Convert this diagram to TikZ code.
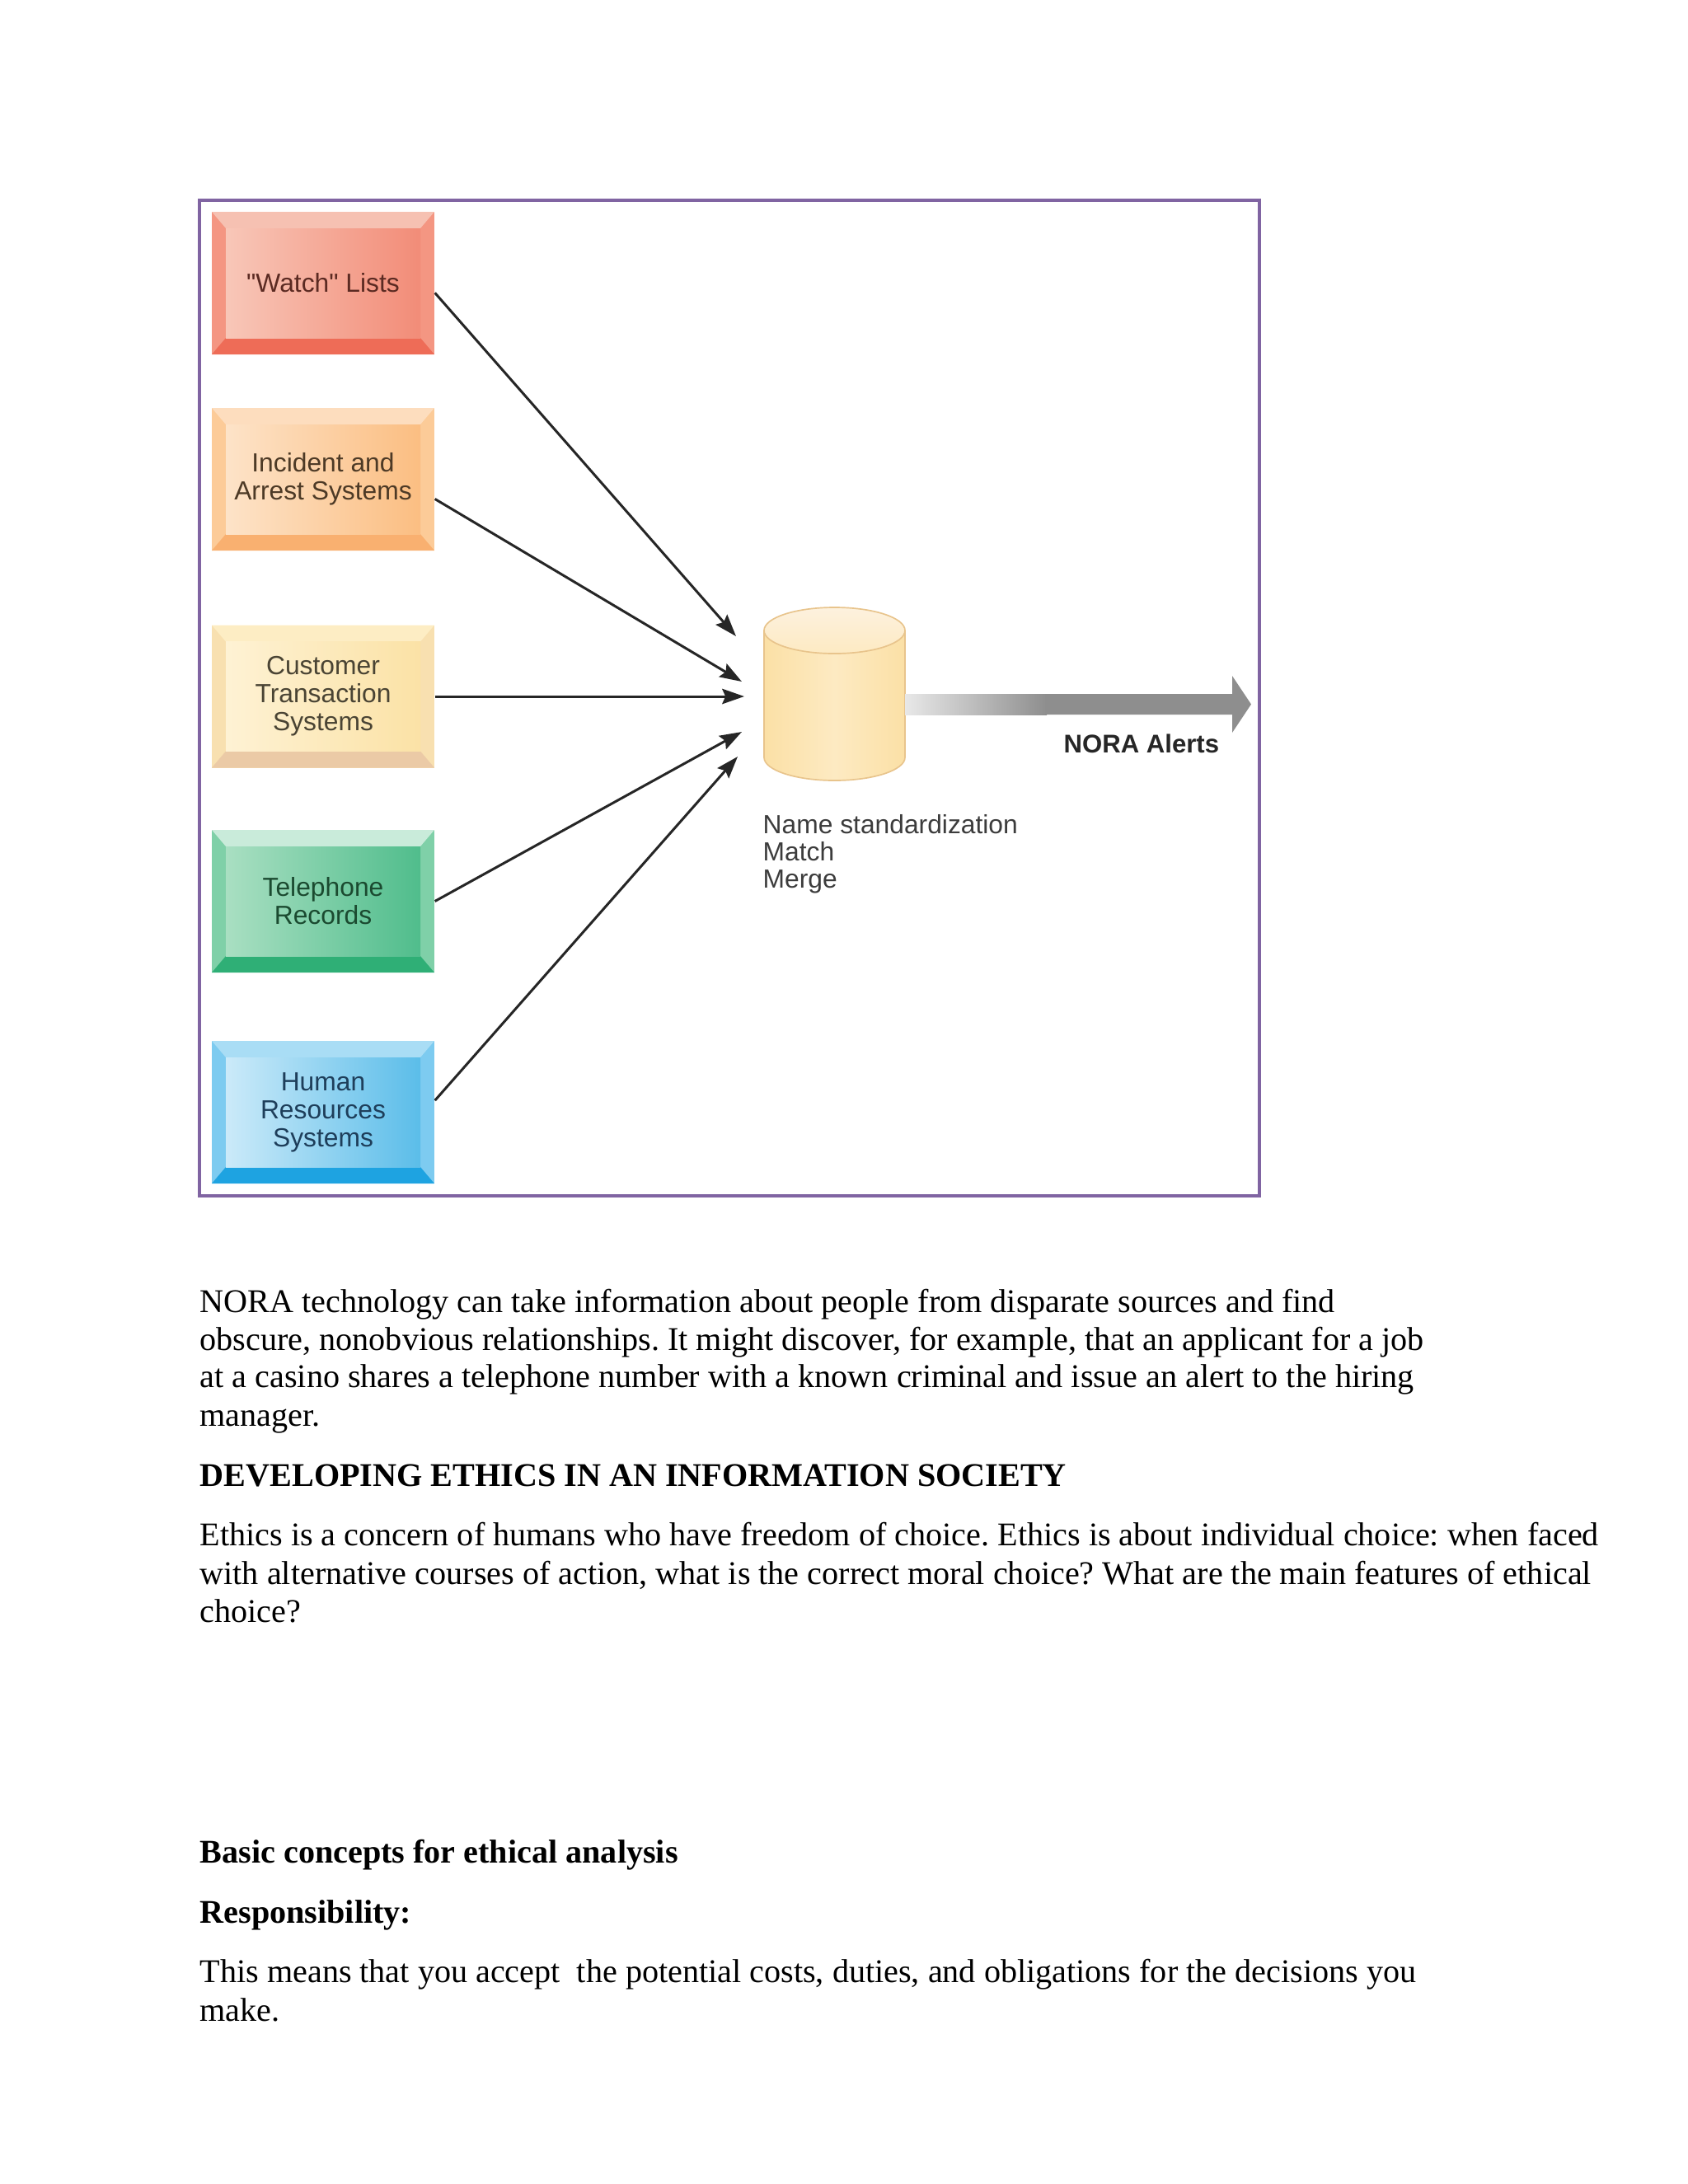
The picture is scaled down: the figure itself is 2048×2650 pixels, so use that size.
\documentclass[tikz,border=0pt]{standalone}
\usepackage{fontspec}
\setmainfont{Liberation Serif}
\newfontfamily\diagfont{Liberation Sans}
\usetikzlibrary{arrows.meta}
\frenchspacing
\definecolor{framepurple}{HTML}{8064A2}
% box colours: top, bottom, side, inner left, inner right, text
\definecolor{watchtop}{HTML}{F6C1B2}
\definecolor{watchbot}{HTML}{EE6C57}
\definecolor{watchside}{HTML}{F49682}
\definecolor{watchleft}{HTML}{F8C7B8}
\definecolor{watchright}{HTML}{F28C78}
\definecolor{watchtext}{HTML}{5B2A22}
\definecolor{incitop}{HTML}{FDDDBE}
\definecolor{incibot}{HTML}{F9B070}
\definecolor{inciside}{HTML}{FCCB98}
\definecolor{incileft}{HTML}{FDE3C8}
\definecolor{inciright}{HTML}{FBBE82}
\definecolor{incitext}{HTML}{4D3A26}
\definecolor{custtop}{HTML}{FDEDC4}
\definecolor{custbot}{HTML}{EBCAA6}
\definecolor{custside}{HTML}{F8E0B0}
\definecolor{custleft}{HTML}{FEF2D4}
\definecolor{custright}{HTML}{FBE2A6}
\definecolor{custtext}{HTML}{4A4434}
\definecolor{phonetop}{HTML}{C9EBDA}
\definecolor{phonebot}{HTML}{2FAF76}
\definecolor{phoneside}{HTML}{7FD0A8}
\definecolor{phoneleft}{HTML}{A9DFC2}
\definecolor{phoneright}{HTML}{50BD8C}
\definecolor{phonetext}{HTML}{1B4A30}
\definecolor{humantop}{HTML}{A9DDF5}
\definecolor{humanbot}{HTML}{1EA3E1}
\definecolor{humanside}{HTML}{7DCBF0}
\definecolor{humanleft}{HTML}{CBEAF9}
\definecolor{humanright}{HTML}{5BBDE9}
\definecolor{humantext}{HTML}{1E3E5A}
\definecolor{dbbody}{HTML}{FBE0A6}
\definecolor{dbmid}{HTML}{FDEAC2}
\definecolor{dbtop}{HTML}{FDF1DE}
\definecolor{dbedge}{HTML}{E8C48C}
\definecolor{alertlight}{HTML}{E8E8E8}
\definecolor{alertgray}{HTML}{8E8E8E}
\definecolor{notegray}{HTML}{3C3C3C}
\tikzset{
    boxtext/.style={inner sep=0pt, minimum width=80.7pt, minimum height=51.7pt,
            align=center, font=\diagfont\fontsize{9.5}{10.2}\selectfont},
    feed/.style={line width=0.9pt, draw=black!85,
            -{Stealth[length=8pt,width=5.5pt,inset=1.2pt]}},
    bodytext/.style={anchor=base west, inner sep=0pt, font=\fontsize{12}{13.75}\selectfont},
    notetext/.style={anchor=base west, inner sep=0pt, text=notegray,
            font=\diagfont\fontsize{9.5}{10.2}\selectfont},
}
% bevelled source box: name, y, colour prefix, text
\newcommand{\srcbox}[4]{%
    \fill[#3side] (257,#2-86.5) rectangle (527,#2+86.5);
    \fill[#3top] (257,#2-86.5) -- (527,#2-86.5) -- (510,#2-66.5) -- (274,#2-66.5) -- cycle;
    \fill[#3bot] (257,#2+86.5) -- (527,#2+86.5) -- (510,#2+66.5) -- (274,#2+66.5) -- cycle;
    \shade[left color=#3left, right color=#3right] (274,#2-66.5) rectangle (510,#2+66.5);
    \node[boxtext, text=#3text] (#1) at (392,#2) {#4};
}
\begin{document}
\begin{tikzpicture}[x=0.298828pt, y=-0.298828pt]
        \useasboundingbox (0,0) rectangle (2048,2650);
        %draw frame
        \draw[framepurple, line width=1.2pt] (242,243) rectangle (1528,1451);
        %draw source boxes
        \srcbox{watch}{343.5}{watch}{"Watch" Lists}
        \srcbox{incident}{581.5}{inci}{Incident and\\Arrest Systems}
        \srcbox{customer}{845}{cust}{Customer\\Transaction\\Systems}
        \srcbox{phone}{1093.5}{phone}{Telephone\\Records}
        \srcbox{human}{1349.5}{human}{Human\\Resources\\Systems}
        %draw database
        \shade[left color=dbbody, right color=dbbody, middle color=dbmid] (927,765) -- (927,919)
            arc[start angle=180, end angle=360, x radius=25.55pt, y radius=8.37pt] -- (1098,765) -- cycle;
        \draw[dbedge, line width=0.5pt] (927,765) -- (927,919)
            arc[start angle=180, end angle=360, x radius=25.55pt, y radius=8.37pt] -- (1098,765);
        \shade[top color=dbtop, bottom color=dbmid, draw=dbedge, line width=0.5pt]
            (1012.5,765) ellipse [x radius=25.55pt, y radius=8.37pt];
        \coordinate (in1) at (893,772);
        \coordinate (in2) at (900,827);
        \coordinate (in3) at (903,845);
        \coordinate (in4) at (900,888);
        \coordinate (in5) at (895,918);
        %draw feeds
        \draw[feed] (watch.-5) -- (in1);
        \draw[feed] (incident.-10) -- (in2);
        \draw[feed] (customer.east) -- (in3);
        \draw[feed] (phone.east) -- (in4);
        \draw[feed] (human.6) -- (in5);
        %draw alert arrow
        \shade[left color=alertlight, right color=alertgray] (1098,842) rectangle (1270,867);
        \fill[alertgray] (1268,842) -- (1495,842) -- (1495,820) -- (1518,854.5) -- (1495,889)
            -- (1495,867) -- (1268,867) -- cycle;
        \node[anchor=base west, inner sep=0pt, text=black!85,
            font=\diagfont\bfseries\fontsize{9.3}{10.2}\selectfont] (alerts) at (1290,913) {NORA Alerts};
        %draw notes
        \node[notetext] (note1) at (925,1011) {Name standardization};
        \node[notetext] (note2) at (925,1044) {Match};
        \node[notetext] (note3) at (925,1077) {Merge};
        %draw body text
        \node[bodytext] (p1) at (242,1592) {NORA technology can take information about people from disparate sources and find};
        \node[bodytext] (p2) at (242,1638) {obscure, nonobvious relationships. It might discover, for example, that an applicant for a job};
        \node[bodytext] (p3) at (242,1683) {at a casino shares a telephone number with a known criminal and issue an alert to the hiring};
        \node[bodytext] (p4) at (242,1730) {manager.};
        \node[bodytext, font=\bfseries\fontsize{12}{13.75}\selectfont] (h1) at (242,1803) {DEVELOPING ETHICS IN AN INFORMATION SOCIETY};
        \node[bodytext] (e1) at (242,1875) {Ethics is a concern of humans who have freedom of choice. Ethics is about individual choice: when faced};
        \node[bodytext] (e2) at (242,1922) {with alternative courses of action, what is the correct moral choice? What are the main features of ethical};
        \node[bodytext] (e3) at (242,1968) {choice?};
        \node[bodytext, font=\bfseries\fontsize{12}{13.75}\selectfont] (h2) at (242,2260) {Basic concepts for ethical analysis};
        \node[bodytext, font=\bfseries\fontsize{12}{13.75}\selectfont] (h3) at (242,2333) {Responsibility:};
        \node[bodytext] (r1) at (242,2405) {This means that you accept\ \ the potential costs, duties, and obligations for the decisions you};
        \node[bodytext] (r2) at (242,2452) {make.};
    \end{tikzpicture}
\end{document}
